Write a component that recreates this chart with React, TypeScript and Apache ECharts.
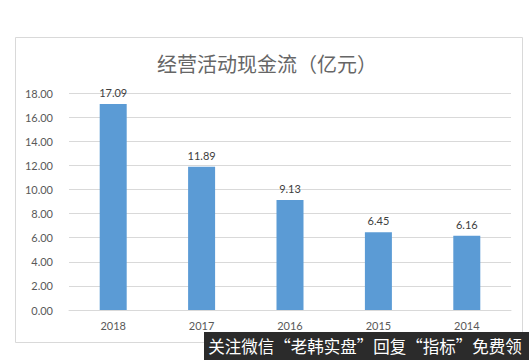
import React, { useEffect, useRef } from "react";
import * as echarts from "echarts";

const categories = ["2018", "2017", "2016", "2015", "2014"];
const values = [17.09, 11.89, 9.13, 6.45, 6.16];
const titleText = "经营活动现金流（亿元）";
const watermarkText = "关注微信“老韩实盘”回复“指标”免费领";

export default function App() {
  const ref = useRef<HTMLDivElement>(null);
  useEffect(() => {
    const chart = echarts.init(ref.current!, null, { renderer: "svg" });
    chart.setOption({
      animation: false,
      backgroundColor: "#ffffff",
      title: {
        text: titleText,
        left: 262,
        textAlign: "center",
        top: 48,
        textStyle: {
          fontFamily: "Noto Sans CJK SC",
          fontSize: 20,
          fontWeight: "normal",
          color: "#666666",
        },
      },
      grid: { left: 69, right: 18, top: 93, bottom: 50 },
      xAxis: {
        type: "category",
        data: categories,
        axisLine: { lineStyle: { color: "#D9D9D9" } },
        axisTick: { show: false },
        axisLabel: { color: "#595959", fontSize: 11, fontFamily: "Lato", margin: 10 },
      },
      yAxis: {
        type: "value",
        min: 0,
        max: 18,
        interval: 2,
        axisLine: { show: false },
        axisTick: { show: false },
        splitLine: { lineStyle: { color: "#D9D9D9" } },
        axisLabel: {
          color: "#595959",
          fontSize: 11,
          fontFamily: "Lato",
          margin: 16,
          formatter: (v: number) => v.toFixed(2),
        },
      },
      series: [
        {
          type: "bar",
          data: values,
          barWidth: 27,
          itemStyle: { color: "#5B9BD5" },
          label: {
            show: true,
            position: "top",
            distance: 6,
            color: "#404040",
            fontSize: 11,
            fontFamily: "Lato",
            formatter: (p: any) => p.value.toFixed(2),
          },
        },
      ],
      graphic: [
        {
          type: "rect",
          shape: { x: 15.5, y: 37.5, width: 507, height: 305 },
          style: { fill: "none", stroke: "#D9D9D9", lineWidth: 1 },
          z: -1,
        },
        {
          type: "rect",
          shape: { x: 204, y: 332, width: 325, height: 28 },
          style: { fill: "#2b2b2b" },
          z: 100,
        },
        {
          type: "text",
          x: 365,
          y: 346,
          z: 101,
          style: {
            text: watermarkText,
            fill: "#ffffff",
            fontSize: 16.5,
            fontFamily: "Noto Sans CJK SC",
            align: "center",
            verticalAlign: "middle",
          },
        },
      ],
    });
    return () => chart.dispose();
  }, []);
  return (
    <div
      ref={ref}
      style={{ position: "fixed", left: 0, top: 0, width: 529, height: 360 }}
    />
  );
}
